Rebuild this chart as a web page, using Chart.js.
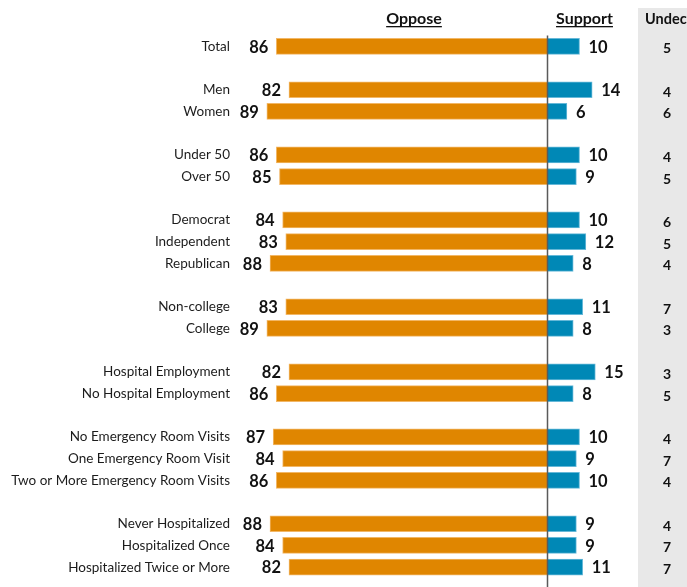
<!DOCTYPE html>
<html>
<head>
<meta charset="utf-8">
<script src="https://cdn.jsdelivr.net/npm/chart.js@4"></script>
<style>
  html, body { margin:0; padding:0; background:#fff; }
  #wrap { position:relative; width:687px; height:587px; }
</style>
</head>
<body>
<div id="wrap"><canvas id="poll"></canvas></div>
<script>
// rows, with empty slots between groups
const groups = ['Total','',
  'Men','Women','',
  'Under 50','Over 50','',
  'Democrat','Independent','Republican','',
  'Non-college','College','',
  'Hospital Employment','No Hospital Employment','',
  'No Emergency Room Visits','One Emergency Room Visit','Two or More Emergency Room Visits','',
  'Never Hospitalized','Hospitalized Once','Hospitalized Twice or More'];
const oppose    = [86,null, 82,89,null, 86,85,null, 84,83,88,null, 83,89,null, 82,86,null, 87,84,86,null, 88,84,82];
const support   = [10,null, 14,6,null,  10,9,null,  10,12,8,null,  11,8,null,  15,8,null,  10,9,10,null,  9,9,11];
const undecided = [5,null,  4,6,null,   4,5,null,   6,5,4,null,    7,3,null,   3,5,null,   4,7,4,null,    4,7,7];

const FONT = 'Lato, "Open Sans", sans-serif';
const ORANGE = '#E08600', BLUE = '#0088B6';

// row labels, values, gray undecided column, headers, zero line
const decor = {
  id:'decor',
  beforeDraw(c){
    const ctx = c.ctx;
    ctx.save();
    ctx.fillStyle = '#e8e8e8';
    ctx.fillRect(638, 8, 49, c.height - 8);
    ctx.restore();
  },
  afterDatasetsDraw(c){
    const ctx = c.ctx, x = c.scales.x, y = c.scales.y;
    ctx.save();
    // zero line
    const x0 = Math.round(x.getPixelForValue(0)) - 0.5;
    ctx.strokeStyle = '#5a5a5a'; ctx.lineWidth = 1.5;
    ctx.beginPath(); ctx.moveTo(x0, c.chartArea.top); ctx.lineTo(x0, c.height); ctx.stroke();

    ctx.textBaseline = 'middle';
    ctx.fillStyle = '#1c1c1c';
    ctx.font = '13.5px ' + FONT;
    ctx.textAlign = 'right';
    groups.forEach((g, i) => { if (g) ctx.fillText(g, 230, y.getPixelForValue(i)); });

    ctx.fillStyle = '#111';
    ctx.font = 'bold 16.5px ' + FONT;
    c.getDatasetMeta(0).data.forEach((el, i) => {
      if (oppose[i] == null) return;
      ctx.textAlign = 'right';
      ctx.fillText(oppose[i], el.x - 8, el.y + 1);
    });
    c.getDatasetMeta(1).data.forEach((el, i) => {
      if (support[i] == null) return;
      ctx.textAlign = 'left';
      ctx.fillText(support[i], el.x + 9, el.y + 1);
    });
    ctx.font = 'bold 14px ' + FONT;
    ctx.textAlign = 'center';
    undecided.forEach((v, i) => {
      if (v == null) return;
      ctx.fillText(v, 667, y.getPixelForValue(i) + 2.5);
    });

    // headers
    const head = (t, cx, size) => {
      ctx.font = 'bold ' + size + 'px ' + FONT;
      ctx.textAlign = 'center';
      ctx.fillText(t, cx, 19);
      const w = ctx.measureText(t).width;
      ctx.fillRect(cx - w / 2, 26, w, 1.3);
    };
    head('Oppose', 414, 16);
    head('Support', 584.5, 16);
    ctx.font = 'bold 14.5px ' + FONT;
    ctx.textAlign = 'left';
    ctx.fillText('Undecided', 645, 19);
    ctx.restore();
  }
};

new Chart(document.getElementById('poll'), {
  type:'bar',
  data:{
    labels: groups,
    datasets:[
      {label:'Oppose', data: oppose.map(v => v == null ? null : -v),
       backgroundColor: ORANGE, borderColor:'#f2b766', borderWidth:1, barThickness:16},
      {label:'Support', data: support,
       backgroundColor: BLUE, borderColor:'#66b8d8', borderWidth:1, barThickness:16}
    ]
  },
  options:{
    indexAxis:'y', responsive:true, maintainAspectRatio:false, animation:false,
    layout:{ padding:{ top:35.5, bottom:9, left:240, right:50 } },
    plugins:{ legend:{display:false}, tooltip:{enabled:false} },
    scales:{
      x:{ stacked:true, display:false, min:-97.5, max:28.2 },
      y:{ stacked:true, display:false }
    }
  },
  plugins:[decor]
});
</script>
</body>
</html>
